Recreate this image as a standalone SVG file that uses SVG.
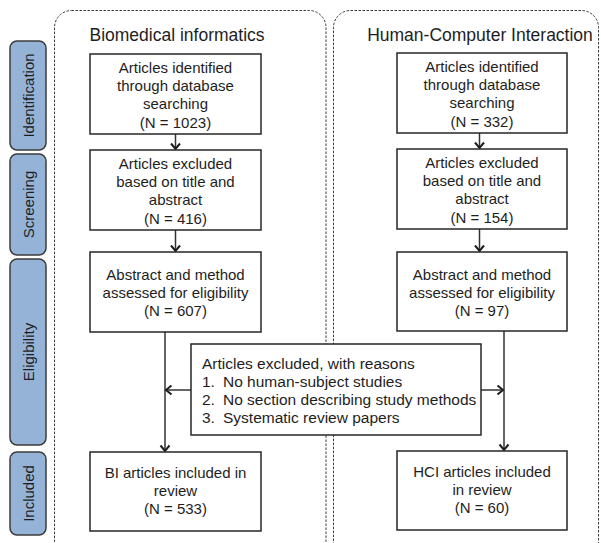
<svg xmlns="http://www.w3.org/2000/svg" width="601" height="543" viewBox="0 0 601 543">
<defs>
<style>
text{font-family:"Liberation Sans",Arial,sans-serif;font-size:15px;fill:#1e1e1e}
.c{text-anchor:middle}
.title{font-size:17.5px}
.ex{font-size:15.5px}
.box{fill:#fff;stroke:#262626;stroke-width:1.5}
.pill{fill:#95b3d7;stroke:#3c3c3c;stroke-width:1.5}
.cont{fill:none;stroke:#3a3a3a;stroke-width:1;stroke-dasharray:2.5 1.5}
.ln{fill:none;stroke:#333;stroke-width:1.5}
.ah{fill:none;stroke:#1e1e1e;stroke-width:2}
</style>
</defs>

<g id="containers">
<rect class="cont" x="54.5" y="10.5" width="271.5" height="548" rx="17"/>
<rect class="cont" x="333.5" y="10.5" width="265" height="548" rx="17"/>
</g>

<g id="stage-identification">
<rect class="pill" x="10" y="41" width="36" height="109" rx="7"/>
<text class="c" transform="translate(33.5,95.5) rotate(-90)">Identification</text>
</g>
<g id="stage-screening">
<rect class="pill" x="10" y="154" width="36" height="101" rx="7"/>
<text class="c" transform="translate(33.5,204.5) rotate(-90)">Screening</text>
</g>
<g id="stage-eligibility">
<rect class="pill" x="10" y="259" width="36" height="186" rx="7"/>
<text class="c" transform="translate(33.5,352) rotate(-90)">Eligibility</text>
</g>
<g id="stage-included">
<rect class="pill" x="10" y="452" width="36" height="83" rx="7"/>
<text class="c" transform="translate(33.5,493.5) rotate(-90)">Included</text>
</g>

<g id="title-bi"><text class="c title" x="177" y="41">Biomedical informatics</text></g>
<g id="title-hci"><text class="c title" x="480" y="41">Human-Computer Interaction</text></g>

<g id="connectors">
<line class="ln" x1="175.5" y1="134" x2="175.5" y2="149"/>
<line class="ln" x1="175.5" y1="230" x2="175.5" y2="251"/>
<line class="ln" x1="165" y1="332" x2="165" y2="451"/>
<line class="ln" x1="191" y1="390" x2="166" y2="390"/>
<line class="ln" x1="479.5" y1="133" x2="479.5" y2="148"/>
<line class="ln" x1="479.5" y1="229" x2="479.5" y2="251"/>
<line class="ln" x1="504" y1="331" x2="504" y2="450"/>
<line class="ln" x1="481" y1="390" x2="503" y2="390"/>
<path class="ah" d="M171,143.5 L175.5,149 L180,143.5"/>
<path class="ah" d="M171,245.5 L175.5,251 L180,245.5"/>
<path class="ah" d="M160.5,445.5 L165,451 L169.5,445.5"/>
<path class="ah" d="M171.5,385.5 L166,390 L171.5,394.5"/>
<path class="ah" d="M475,142.5 L479.5,148 L484,142.5"/>
<path class="ah" d="M475,245.5 L479.5,251 L484,245.5"/>
<path class="ah" d="M499.5,444.5 L504,450 L508.5,444.5"/>
<path class="ah" d="M497.5,385.5 L503,390 L497.5,394.5"/>
</g>

<g id="bi-identified">
<rect class="box" x="90" y="54" width="171" height="80"/>
<text class="c" x="175.5" y="73">Articles identified</text>
<text class="c" x="175.5" y="91">through database</text>
<text class="c" x="175.5" y="109">searching</text>
<text class="c" x="175.5" y="128">(N = 1023)</text>
</g>
<g id="bi-screened">
<rect class="box" x="90" y="150" width="171" height="80"/>
<text class="c" x="175.5" y="169">Articles excluded</text>
<text class="c" x="175.5" y="187">based on title and</text>
<text class="c" x="175.5" y="205">abstract</text>
<text class="c" x="175.5" y="224">(N = 416)</text>
</g>
<g id="bi-eligibility">
<rect class="box" x="90" y="252" width="171" height="80"/>
<text class="c" x="175.5" y="280">Abstract and method</text>
<text class="c" x="175.5" y="298">assessed for eligibility</text>
<text class="c" x="175.5" y="316">(N = 607)</text>
</g>
<g id="bi-included">
<rect class="box" x="90" y="452" width="171" height="79"/>
<text class="c" x="175.5" y="478">BI articles included in</text>
<text class="c" x="175.5" y="496">review</text>
<text class="c" x="175.5" y="514">(N = 533)</text>
</g>

<g id="hci-identified">
<rect class="box" x="397" y="53" width="170" height="80"/>
<text class="c" x="482" y="72">Articles identified</text>
<text class="c" x="482" y="90">through database</text>
<text class="c" x="482" y="108">searching</text>
<text class="c" x="482" y="127">(N = 332)</text>
</g>
<g id="hci-screened">
<rect class="box" x="397" y="149" width="170" height="80"/>
<text class="c" x="482" y="168">Articles excluded</text>
<text class="c" x="482" y="186">based on title and</text>
<text class="c" x="482" y="204">abstract</text>
<text class="c" x="482" y="223">(N = 154)</text>
</g>
<g id="hci-eligibility">
<rect class="box" x="397" y="252" width="170" height="79"/>
<text class="c" x="482" y="280">Abstract and method</text>
<text class="c" x="482" y="298">assessed for eligibility</text>
<text class="c" x="482" y="316">(N = 97)</text>
</g>
<g id="hci-included">
<rect class="box" x="397" y="451" width="170" height="79"/>
<text class="c" x="482" y="477">HCI articles included</text>
<text class="c" x="482" y="495">in review</text>
<text class="c" x="482" y="513">(N = 60)</text>
</g>

<g id="excluded-reasons">
<rect class="box" x="191" y="344" width="290" height="91"/>
<text class="ex" x="202" y="369">Articles excluded, with reasons</text>
<text class="ex" x="202" y="387">1.</text><text class="ex" x="223" y="387">No human-subject studies</text>
<text class="ex" x="202" y="405">2.</text><text class="ex" x="223" y="405">No section describing study methods</text>
<text class="ex" x="202" y="423">3.</text><text class="ex" x="223" y="423">Systematic review papers</text>
</g>
</svg>
